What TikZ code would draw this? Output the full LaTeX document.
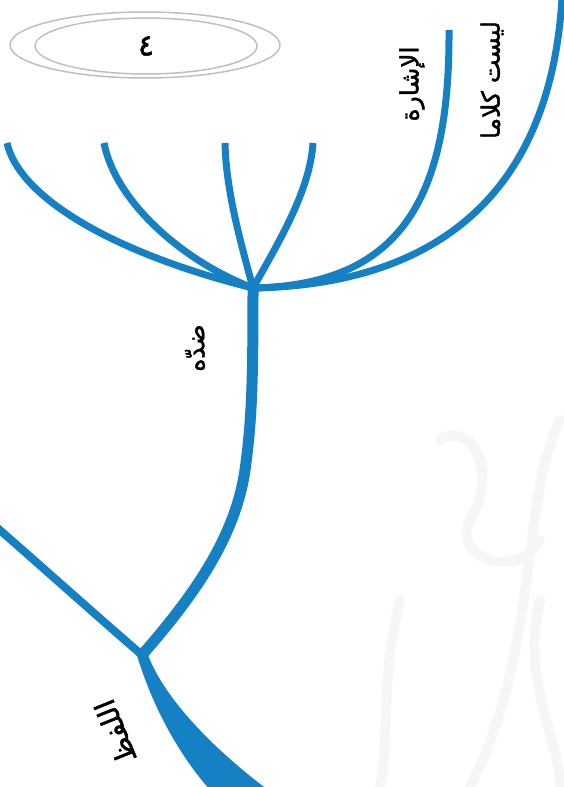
\documentclass[tikz,border=0pt]{standalone}
\usepackage{fontspec}
\newfontfamily\arabicfont[Script=Arabic, FakeBold=1.6]{DejaVu Sans}
\TeXXeTstate=1
\definecolor{branchblue}{RGB}{22,128,196}
\begin{document}
\begin{tikzpicture}[x = 1pt, y = -1pt,
  branch/.style = {draw = branchblue, line width = 7pt},
  wmark/.style = {draw = gray!7, line width = 10pt, line cap = round},
  arlabel/.style = {font = \arabicfont\fontsize{25}{25}\selectfont, rotate = 90, inner sep = 0pt}]
\useasboundingbox (0,0) rectangle (564,787);
% faint background ornament
\draw[wmark] (440,440) .. controls (470,420) and (500,470) .. (470,520) .. controls (450,560) and (520,580) .. (540,540);
\draw[wmark] (560,420) .. controls (520,500) and (540,650) .. (470,787);
\draw[wmark] (400,600) .. controls (380,680) and (390,740) .. (380,787);
\draw[wmark] (540,600) .. controls (520,680) and (560,740) .. (560,787);
% points of the tree
\coordinate (hub) at (253,288);
\coordinate (fork) at (142,655);
\coordinate (tipA) at (7,143);
\coordinate (tipB) at (104,143);
\coordinate (tipC) at (225,143);
\coordinate (tipD) at (313,143);
\coordinate (tipE) at (449,30);
\coordinate (tipF) at (562,-2);
\coordinate (tipL) at (-6,525);
% trunk and lower branches
\fill[branchblue] (136,652) .. controls (150,700) and (175,750) .. (210,790) -- (268,790) .. controls (215,750) and (165,700) .. (148,655) -- cycle;
\draw[branch, line width = 8pt] (fork) .. controls (90,610) and (40,565) .. (tipL);
\draw[branch, line width = 11pt] (fork) .. controls (190,600) and (235,540) .. (245,470) .. controls (252,420) and (253,380) .. (hub);
% upper branches
\draw[branch] (hub) .. controls (120,255) and (20,200) .. (tipA);
\draw[branch] (hub) .. controls (180,260) and (115,200) .. (tipB);
\draw[branch] (hub) .. controls (240,240) and (226,190) .. (tipC);
\draw[branch] (hub) .. controls (280,240) and (310,190) .. (tipD);
\draw[branch] (hub) .. controls (400,285) and (450,200) .. (tipE);
\draw[branch] (hub) .. controls (430,285) and (550,200) .. (tipF);
% number in the double ellipse
\draw[gray!50, line width = 1.5pt] (145,45) ellipse [x radius = 135pt, y radius = 33pt];
\draw[gray!50, line width = 1.5pt] (146,46) ellipse [x radius = 111pt, y radius = 28pt];
\node[font = \arabicfont\fontsize{30}{30}\selectfont, inner sep = 0pt] (num) at (146,46) {٤};
% labels
\node[arlabel, font = \arabicfont\fontsize{28}{28}\selectfont] (lafz) at (115,732) [rotate = 22] {\beginR اللفظ\endR};
\node[arlabel] (didd) at (195,348) {\beginR ضدّه\endR};
\node[arlabel] (ishara) at (412,84) {\beginR الإشارة\endR};
\node[arlabel] (laysat) at (492,80) {\beginR ليست كلاما\endR};
\end{tikzpicture}
\end{document}
